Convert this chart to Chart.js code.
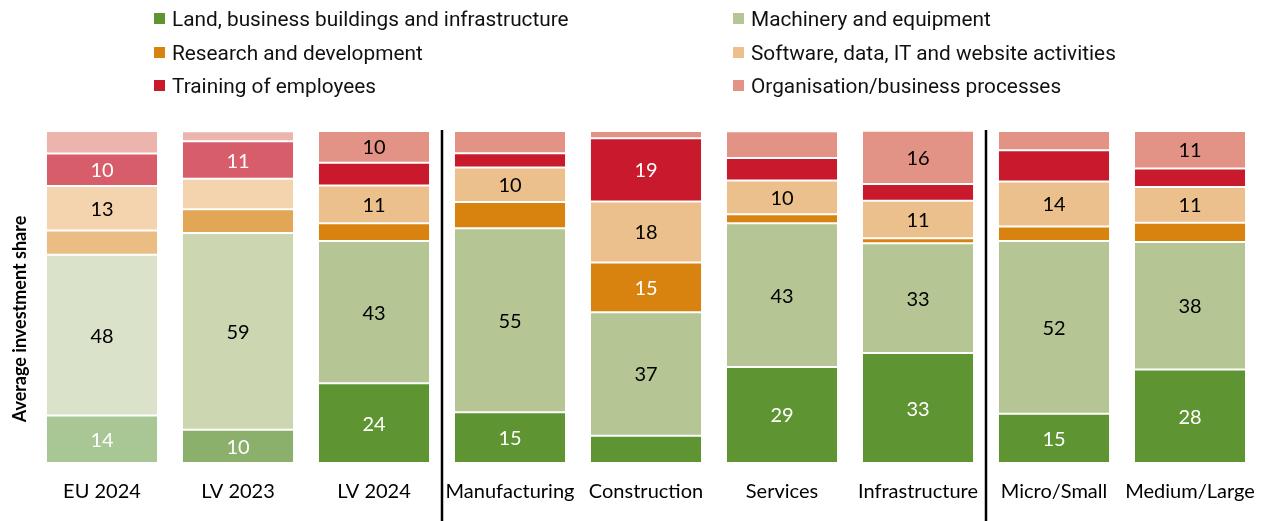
<!DOCTYPE html>
<html>
<head>
<meta charset="utf-8">
<script src="https://cdn.jsdelivr.net/npm/chart.js@4"></script>
<style>
    html, body { margin: 0; padding: 0; background: #fff; overflow: hidden; }
    #wrap { position: relative; width: 1265px; height: 521px; }
    #investChart { display: block; }
    #legend { position: absolute; left: 0; top: 0; width: 1265px; height: 110px; font-family: Roboto, sans-serif; font-size: 20.8px; color: #111; }
    .item { position: absolute; white-space: nowrap; line-height: 24px; }
    .item span.box { position: absolute; left: 0; top: 6px; width: 11px; height: 11px; }
    .item span.txt { position: absolute; left: 18px; top: 0; }
</style>
</head>
<body>
<div id="wrap">
    <canvas id="investChart" width="1265" height="521"></canvas>
    <div id="legend"></div>
</div>
<script>
var categories = ["EU 2024", "LV 2023", "LV 2024", "Manufacturing", "Construction", "Services", "Infrastructure", "Micro/Small", "Medium/Large"];

var seriesNames = [
    "Land, business buildings and infrastructure",
    "Machinery and equipment",
    "Research and development",
    "Software, data, IT and website activities",
    "Training of employees",
    "Organisation/business processes"
];

var land      = [14.3, 10.0, 24.0, 15.3,  8.2, 28.9, 33.1, 14.8, 28.2];
var machinery = [48.4, 59.3, 42.9, 55.4, 37.2, 43.3, 33.1, 52.1, 38.4];
var research  = [ 7.3,  7.1,  5.3,  7.9, 15.0,  2.7,  1.5,  4.3,  5.8];
var software  = [13.4,  9.2, 11.4, 10.4, 18.4, 10.2, 11.3, 13.6, 10.7];
var training  = [ 9.8, 11.3,  6.8,  4.3, 19.0,  6.8,  5.0,  9.4,  5.6];
var organisation = [6.8, 3.0,  9.6,  6.7,  2.2,  8.0, 16.1,  5.8, 11.3];

// main colour, EU 2024 shade, LV 2023 shade
var palette = [
    ["#5E9432", "#A9C795", "#8BB06B"],
    ["#B5C694", "#DAE2C9", "#CCD7B2"],
    ["#D8820F", "#EABD84", "#E2A657"],
    ["#ECC08C", "#F4D4AE", "#F4D4AE"],
    ["#C8192D", "#D75D6B", "#D75D6B"],
    ["#E39386", "#EBB4AC", "#EBB4AC"]
];
var labelColours = ["#fff", "#000", "#fff", "#000", "#fff", "#000"];

// split after LV 2024 and after Infrastructure
var separatorsAfter = [2, 6];

function barColours(i) {
    return categories.map(function (c, j) {
        if (j === 0) return palette[i][1];
        if (j === 1) return palette[i][2];
        return palette[i][0];
    });
}

var seriesData = [land, machinery, research, software, training, organisation];

var datasets = seriesData.map(function (d, i) {
    return {
        label: seriesNames[i],
        data: d,
        backgroundColor: barColours(i),
        borderColor: "#fff",
        borderWidth: 1,
        borderSkipped: false,
        categoryPercentage: 1,
        barPercentage: 0.824
    };
});

// legend, two columns
var legendEl = document.getElementById("legend");
seriesNames.forEach(function (name, i) {
    var div = document.createElement("div");
    div.className = "item";
    div.style.left = (i % 2 === 0 ? 154 : 733) + "px";
    div.style.top = (7 + Math.floor(i / 2) * 33.5) + "px";
    div.innerHTML = '<span class="box" style="background:' + palette[i][0] + '"></span><span class="txt">' + name + '</span>';
    legendEl.appendChild(div);
});

var segmentLabels = {
    id: "segmentLabels",
    afterDatasetsDraw: function (chart) {
        var ctx = chart.ctx;
        ctx.save();
        ctx.font = "20px Lato";
        ctx.textAlign = "center";
        ctx.textBaseline = "middle";
        chart.data.datasets.forEach(function (ds, i) {
            var meta = chart.getDatasetMeta(i);
            meta.data.forEach(function (bar, j) {
                var v = ds.data[j];
                if (v < 9.5) return;
                ctx.fillStyle = labelColours[i];
                ctx.fillText(Math.round(v), bar.x, (bar.y + bar.base) / 2 + 1);
            });
        });
        ctx.restore();
    }
};

var extras = {
    id: "extras",
    afterDraw: function (chart) {
        var ctx = chart.ctx;
        var x = chart.scales.x;
        ctx.save();
        ctx.strokeStyle = "#000";
        ctx.lineWidth = 2.5;
        separatorsAfter.forEach(function (k) {
            var px = (x.getPixelForValue(k) + x.getPixelForValue(k + 1)) / 2;
            ctx.beginPath();
            ctx.moveTo(px, chart.chartArea.top - 1);
            ctx.lineTo(px, chart.height);
            ctx.stroke();
        });
        // axis title
        ctx.translate(20, 319);
        ctx.rotate(-Math.PI / 2);
        ctx.font = "bold 18px Lato";
        ctx.fillStyle = "#000";
        ctx.textAlign = "center";
        ctx.textBaseline = "middle";
        ctx.fillText("Average investment share", 0, 0);
        ctx.restore();
    }
};

var ctx = document.getElementById("investChart").getContext("2d");
var myChart = new Chart(ctx, {
    type: "bar",
    data: {
        labels: categories,
        datasets: datasets
    },
    options: {
        responsive: false,
        devicePixelRatio: 1,
        animation: false,
        layout: {
            padding: { top: 131, left: 34, right: 7, bottom: 17 }
        },
        plugins: {
            legend: { display: false },
            tooltip: { enabled: false }
        },
        scales: {
            x: {
                stacked: true,
                grid: { display: false, drawTicks: true, tickLength: 17 },
                border: { display: false },
                ticks: {
                    color: "#000",
                    font: { family: "Lato", size: 20 },
                    padding: 0,
                    maxRotation: 0,
                    autoSkip: false
                }
            },
            y: {
                stacked: true,
                min: 0,
                max: 100,
                display: false
            }
        }
    },
    plugins: [segmentLabels, extras]
});
</script>
</body>
</html>
